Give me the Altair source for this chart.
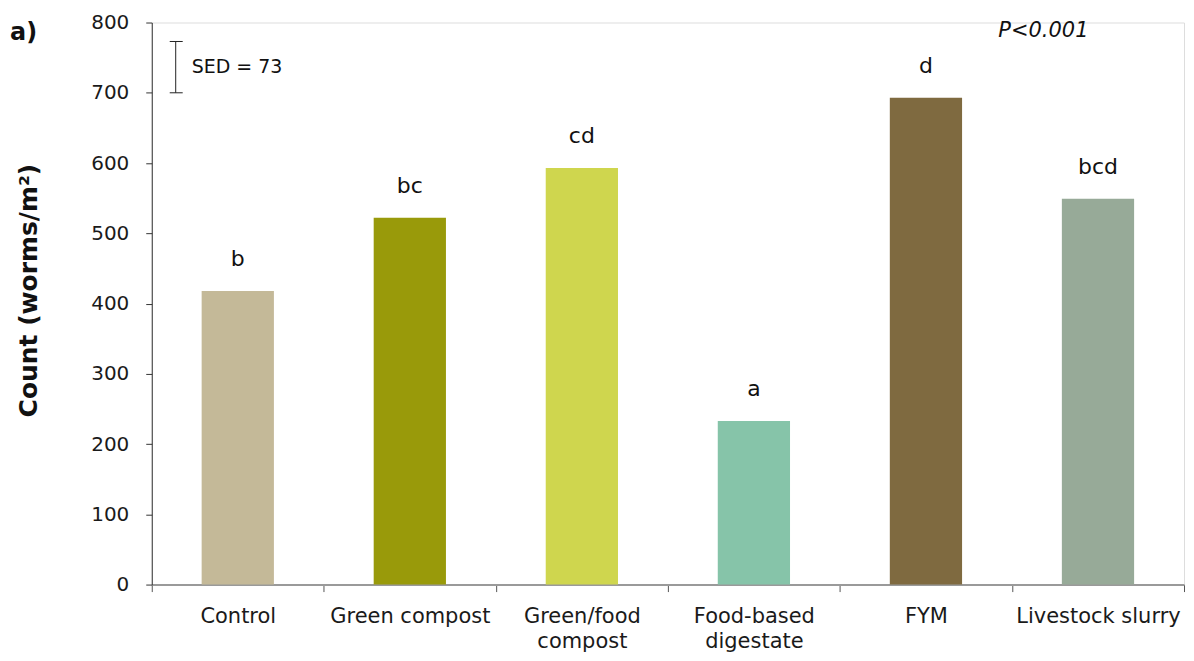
import altair as alt
import pandas as pd

categories = ["Control", "Green compost", "Green/food compost",
              "Food-based digestate", "FYM", "Livestock slurry"]
counts = [418, 522, 593, 233, 693, 549]
letters = ["b", "bc", "cd", "a", "d", "bcd"]
colors = ["#C4B998", "#999A0A", "#CFD64E", "#86C4A9", "#7F6A40", "#97AA98"]

sed_value = 73
sed_base = 700
p_text = "P<0.001"
panel_label = "a)"
y_ticks = list(range(0, 900, 100))

FONT = "DejaVu Sans"
W, H = 1034, 563

df = pd.DataFrame({"category": categories, "count": counts, "letter": letters})
sed_df = pd.DataFrame({"lo": [sed_base], "hi": [sed_base + sed_value],
                       "mid": [sed_base + sed_value / 2],
                       "label": [f"SED = {sed_value}"]})

label_expr = ("datum.label == 'Green/food compost' ? ['Green/food', 'compost'] : "
              "datum.label == 'Food-based digestate' ? ['Food-based', 'digestate'] : datum.label")

x_enc = alt.X("category:N", sort=categories,
              scale=alt.Scale(paddingInner=0, paddingOuter=0),
              axis=alt.Axis(title=None, labelAngle=0, labelExpr=label_expr,
                            tickBand="extent", domainColor="#9a9a9a", domainWidth=2,
                            tickColor="#555555", tickSize=7, labelFontSize=21,
                            labelColor="#1a1a1a", labelPadding=14, labelLineHeight=25,
                            labelFont=FONT))
y_scale = alt.Scale(domain=[0, 800], nice=False)
y_enc = alt.Y("count:Q", scale=y_scale,
              axis=alt.Axis(values=y_ticks, title="Count (worms/m²)", grid=False,
                            domainColor="#333333", tickColor="#333333", tickSize=6,
                            labelFontSize=20, labelColor="#1a1a1a", labelPadding=17,
                            labelFont=FONT, titleFont=FONT, titleFontSize=25,
                            titleFontWeight="bold", titleColor="#111111",
                            titleAngle=-90, titleX=-123, titleY=268,
                            titleAlign="center", titleBaseline="middle"))

bars = alt.Chart(df).mark_bar(width=alt.RelativeBandSize(0.42)).encode(
    x=x_enc, y=y_enc,
    color=alt.Color("category:N", scale=alt.Scale(domain=categories, range=colors), legend=None),
)

text = alt.Chart(df).mark_text(font=FONT, fontSize=22, baseline="alphabetic",
                               dy=-25, color="#111111").encode(
    x=alt.X("category:N", sort=categories), y=alt.Y("count:Q"), text="letter:N")

sed_line = alt.Chart(sed_df).mark_rule(color="#222222", strokeWidth=1).encode(
    x=alt.value(24), y=alt.Y("lo:Q", scale=y_scale), y2="hi:Q")
sed_cap_lo = alt.Chart(sed_df).mark_rule(color="#222222", strokeWidth=1).encode(
    x=alt.value(18), x2=alt.value(31), y=alt.Y("lo:Q", scale=y_scale))
sed_cap_hi = alt.Chart(sed_df).mark_rule(color="#222222", strokeWidth=1).encode(
    x=alt.value(18), x2=alt.value(31), y=alt.Y("hi:Q", scale=y_scale))
sed_text = alt.Chart(sed_df).mark_text(font=FONT, fontSize=19, align="left",
                                       baseline="middle", color="#111111").encode(
    x=alt.value(40), y=alt.Y("mid:Q", scale=y_scale), text="label:N")

p_label = alt.Chart(pd.DataFrame({"t": [p_text]})).mark_text(
    font=FONT, fontSize=21, fontStyle="italic", align="left", baseline="middle",
    color="#111111").encode(x=alt.value(848), y=alt.value(8), text="t:N")

a_label = alt.Chart(pd.DataFrame({"t": [panel_label]})).mark_text(
    font=FONT, fontSize=24, fontWeight="bold", align="left", baseline="middle",
    color="#111111").encode(x=alt.value(-142), y=alt.value(11), text="t:N")

chart = alt.layer(bars, text, sed_line, sed_cap_lo, sed_cap_hi, sed_text, p_label, a_label).properties(
    width=W, height=H,
    autosize=alt.AutoSizeParams(type="none"),
    padding={"left": 144, "top": 14, "right": 2, "bottom": 76},
).configure_view(stroke=None).configure(background="white")

chart.save("out.html", embed_options={"renderer": "svg", "actions": False})
